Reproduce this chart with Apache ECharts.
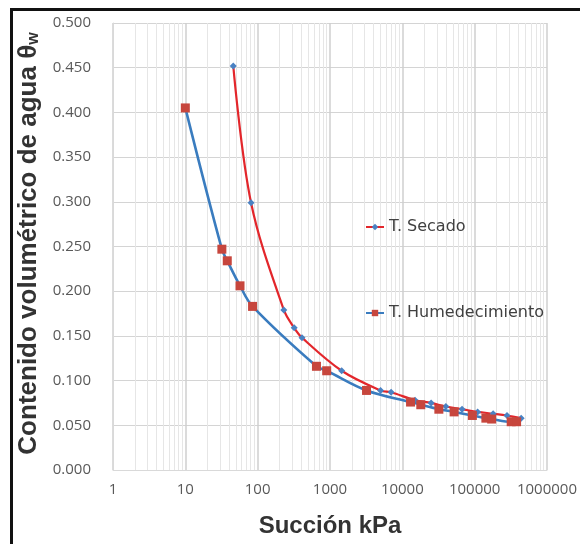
<!DOCTYPE html>
<html>
<head>
    <meta charset="utf-8">
    <title>Curva de retención</title>
    <script src="https://cdn.jsdelivr.net/npm/echarts@6.0.0/dist/echarts.min.js"></script>
    <style>
        html, body { margin: 0; padding: 0; background: #fff; }
    </style>
</head>
<body>
<div id="main" style="width: 580px;height:544px;"></div>

<script type="text/javascript">
    // datos
    var secadoSuccion = [46, 81, 230, 320, 410, 1450, 5000, 7000, 15000, 25000, 40000, 67000, 110000, 180000, 280000, 440000];
    var secadoTheta = [0.452, 0.299, 0.179, 0.159, 0.148, 0.111, 0.089, 0.087, 0.078, 0.075, 0.071, 0.068, 0.065, 0.063, 0.061, 0.058];

    var humSuccion = [10, 32, 38, 57, 85, 650, 900, 3200, 13000, 18000, 32000, 52000, 93000, 143000, 172000, 320000, 380000];
    var humTheta = [0.405, 0.247, 0.234, 0.206, 0.183, 0.116, 0.111, 0.089, 0.076, 0.073, 0.068, 0.065, 0.061, 0.058, 0.057, 0.054, 0.054];

    var xTicks = [1, 10, 100, 1000, 10000, 100000, 1000000];

    function pares(xs, ys) {
        var out = [];
        for (var i = 0; i < xs.length; i++) {
            out.push([xs[i], ys[i]]);
        }
        return out;
    }

    var myChart = echarts.init(document.getElementById('main'));

    var option = {
        backgroundColor: '#ffffff',
        animation: false,
        grid: { left: 113, right: 27, top: 23, bottom: 74 },
        graphic: [
            // marco negro de la figura
            { type: 'rect', shape: { x: 10, y: 8, width: 570, height: 3 }, style: { fill: '#111' } },
            { type: 'rect', shape: { x: 10, y: 8, width: 3, height: 536 }, style: { fill: '#111' } }
        ],
        legend: {
            orient: 'vertical',
            left: 360,
            top: 214,
            itemGap: 70,
            itemWidth: 18,
            itemHeight: 8,
            textStyle: { fontFamily: 'DejaVu Sans', fontSize: 16, color: '#404040' },
            data: ['T. Secado', 'T. Humedecimiento']
        },
        xAxis: {
            type: 'log',
            logBase: 10,
            min: xTicks[0],
            max: xTicks[xTicks.length - 1],
            interval: 1,
            name: 'Succión kPa',
            nameLocation: 'middle',
            nameGap: 44,
            nameTextStyle: { fontFamily: 'Liberation Sans', fontWeight: 'bold', fontSize: 24, color: '#333' },
            axisLine: { show: true, lineStyle: { color: '#d9d9d9' } },
            axisTick: { show: false },
            axisLabel: {
                margin: 12,
                fontFamily: 'Open Sans',
                fontSize: 15,
                color: '#595959',
                formatter: function (v) { return String(Math.round(v)); }
            },
            splitLine: { show: true, lineStyle: { color: '#cfcfcf', width: 1.5 } },
            minorTick: { show: false, splitNumber: 9 },
            minorSplitLine: { show: true, lineStyle: { color: '#e6e6e6', width: 1 } }
        },
        yAxis: {
            type: 'value',
            min: 0,
            max: 0.5,
            interval: 0.05,
            name: 'Contenido volumétrico de agua θ{w|w}',
            nameLocation: 'middle',
            nameGap: 61,
            nameTextStyle: {
                fontFamily: 'Liberation Sans', fontWeight: 'bold', fontSize: 26, color: '#333',
                padding: [0, 0, 0, 6],
                rich: {
                    w: { fontFamily: 'Liberation Sans', fontWeight: 'bold', fontSize: 16, color: '#333', verticalAlign: 'bottom', padding: [10, 0, 0, 0] }
                }
            },
            axisLine: { show: true, lineStyle: { color: '#d9d9d9' } },
            axisTick: { show: false },
            axisLabel: {
                margin: 22,
                fontFamily: 'Open Sans',
                fontSize: 15,
                color: '#595959',
                formatter: function (v) { return v.toFixed(3); }
            },
            splitLine: { show: true, lineStyle: { color: '#d4d4d4' } }
        },
        series: [
            {
                name: 'T. Secado',
                type: 'line',
                smooth: 0.35,
                data: pares(secadoSuccion, secadoTheta),
                symbol: 'diamond',
                symbolSize: 7,
                lineStyle: { color: '#e3262b', width: 2.2 },
                itemStyle: { color: '#4a82c3' },
                z: 2
            },
            {
                name: 'T. Humedecimiento',
                type: 'line',
                smooth: 0.35,
                data: pares(humSuccion, humTheta),
                symbol: 'rect',
                symbolSize: 9,
                lineStyle: { color: '#3a7cbf', width: 2.6 },
                itemStyle: { color: '#c7463d' },
                z: 3
            }
        ]
    };

    myChart.setOption(option);
</script>
</body>
</html>
